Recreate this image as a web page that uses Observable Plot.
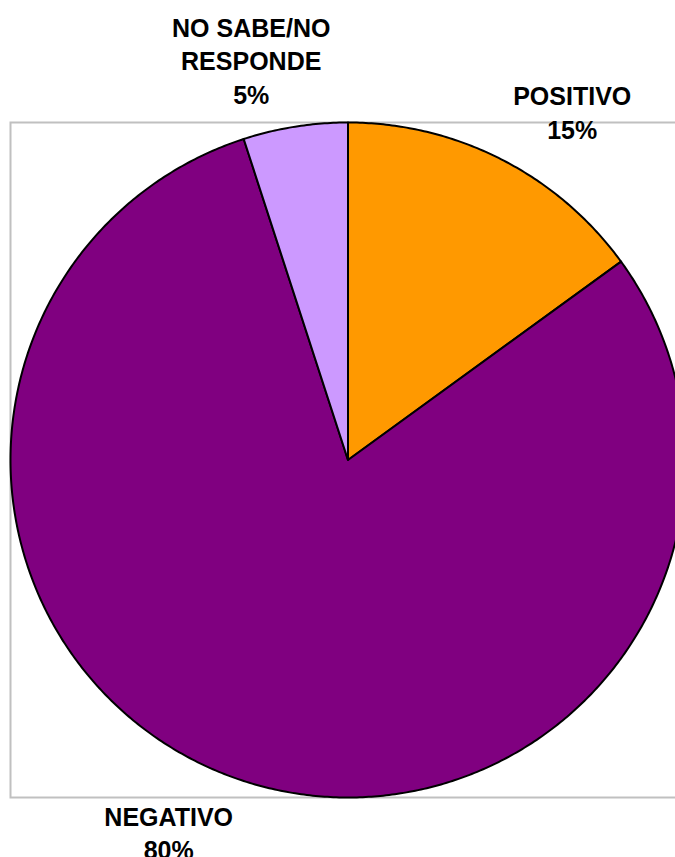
<!DOCTYPE html>
<html><head><meta charset="utf-8">
<script src="https://cdn.jsdelivr.net/npm/d3@7"></script>
<script src="https://cdn.jsdelivr.net/npm/@observablehq/plot@0.6"></script>
<style>body{margin:0;background:#fff}</style>
</head><body><div id="chart"></div>
<script>
// Data
const categories = ["POSITIVO", "NEGATIVO", "NO SABE/NO RESPONDE"];
const labelNames = ["POSITIVO", "NEGATIVO", "NO SABE/NO\nRESPONDE"];
const values = [15, 80, 5];
const colors = ["#FF9900", "#800080", "#CC99FF"];
// label offsets (px) from the slice's outer mid-point
const labelOffsets = [[71, -48], [-75, 51], [-44, -67]];

const total = d3.sum(values);
const slicePoints = [];
const labels = [];
let start = 0;
categories.forEach((name, i) => {
  const a0 = start / total * 2 * Math.PI;
  const a1 = (start + values[i]) / total * 2 * Math.PI;
  slicePoints.push({name, x: 0, y: 0});
  const n = Math.max(2, Math.ceil((a1 - a0) / (Math.PI / 360)));
  for (let k = 0; k <= n; k++) {
    const t = a0 + (a1 - a0) * k / n;
    slicePoints.push({name, x: Math.sin(t), y: Math.cos(t)});
  }
  slicePoints.push({name, x: 0, y: 0});
  const am = (a0 + a1) / 2;
  labels.push({name, text: labelNames[i] + "\n" + values[i] + "%", x: Math.sin(am), y: Math.cos(am), dx: labelOffsets[i][0], dy: labelOffsets[i][1]});
  start += values[i];
});

const chart = Plot.plot({
  width: 675,
  height: 857,
  marginLeft: 10,
  marginRight: -10,
  marginTop: 122,
  marginBottom: 60,
  style: {fontFamily: "'Liberation Sans', Arial, sans-serif", background: "#fff", overflow: "visible"},
  x: {domain: [-1, 1], axis: null},
  y: {domain: [-1, 1], axis: null},
  color: {domain: categories, range: colors},
  marks: [
    Plot.frame({stroke: "#C0C0C0", strokeWidth: 2}),
    Plot.line(slicePoints, {x: "x", y: "y", z: "name", fill: "name", stroke: "#000", strokeWidth: 2, strokeLinejoin: "round", curve: "linear"}),
    ...labels.map(l => Plot.text([l], {
      x: "x", y: "y", text: "text", dx: l.dx, dy: l.dy,
      fontSize: 25, fontWeight: "bold", fill: "#000", lineHeight: 1.34, textAnchor: "middle"
    }))
  ]
});
document.getElementById("chart").append(chart);
</script>
</body></html>
